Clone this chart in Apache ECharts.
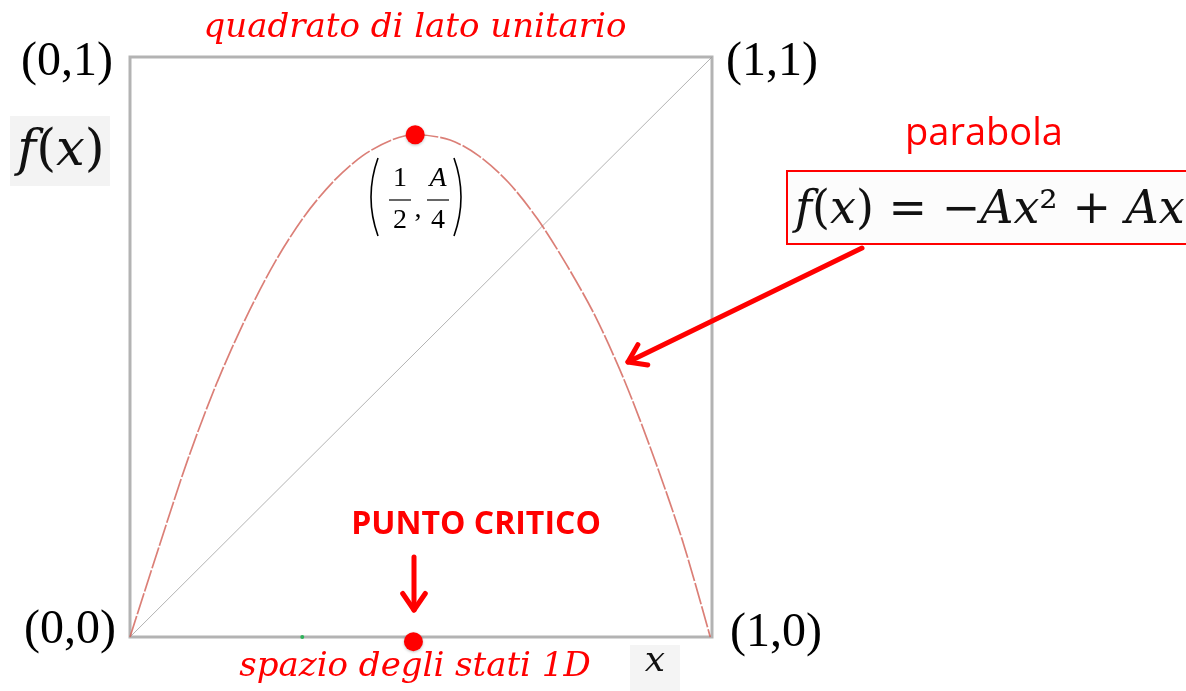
<!DOCTYPE html>
<html>
<head>
<meta charset="utf-8">
<script src="https://cdn.jsdelivr.net/npm/echarts@6/dist/echarts.min.js"></script>
<style>
  html, body { margin: 0; padding: 0; background: #fff; }
  #main { width: 1186px; height: 691px; }
</style>
</head>
<body>
<div id="main"></div>
<script>
// parabola: x in [0,1], f(x)
const curveX = [0, 0.05, 0.10, 0.15, 0.20, 0.25, 0.30, 0.35, 0.40, 0.45, 0.49, 0.55, 0.60, 0.65, 0.70, 0.75, 0.80, 0.85, 0.90, 0.95, 0.997];
const curveY = [0, 0.156, 0.308, 0.440, 0.552, 0.648, 0.726, 0.786, 0.830, 0.857, 0.866, 0.857, 0.829, 0.784, 0.721, 0.642, 0.552, 0.441, 0.310, 0.164, 0];
// bisettrice
const diagX = [0, 1];
const diagY = [0, 1];
// punti rossi: vertice e punto critico
const redX = [0.49, 0.487];
const redY = [0.866, -0.008];
// puntino verde sull'asse
const greenX = [0.296];
const greenY = [0];

const RED = '#ff0000';
const SERIF = '"Liberation Serif", "DejaVu Serif", serif';
const MATH = '"DejaVu Serif", serif';

const chart = echarts.init(document.getElementById('main'));

const zip = (xs, ys) => xs.map((x, i) => [x, ys[i]]);

// freccia "aperta" in stile powerpoint
const arrow = (x1, y1, x2, y2) => {
  const a = Math.atan2(y2 - y1, x2 - x1);
  const len = 20, spread = 0.6;
  const p1 = [x2 - len * Math.cos(a - spread), y2 - len * Math.sin(a - spread)];
  const p2 = [x2 - len * Math.cos(a + spread), y2 - len * Math.sin(a + spread)];
  const st = { stroke: RED, lineWidth: 5, lineCap: 'round', lineJoin: 'round', fill: null };
  return [
    { type: 'line', shape: { x1: x1, y1: y1, x2: x2, y2: y2 }, style: st, z: 50 },
    { type: 'polyline', shape: { points: [p1, [x2, y2], p2] }, style: st, z: 50 }
  ];
};

const txt = (text, x, y, font, fill, align) => ({
  type: 'text', x: x, y: y, z: 60,
  style: { text: text, font: font, fill: fill || '#000', align: align || 'center', verticalAlign: 'middle' }
});

const paren = (x, bulge) => ({
  type: 'bezierCurve', z: 60,
  shape: { x1: x, y1: 158, x2: x, y2: 236, cpx1: x + bulge, cpy1: 197 },
  style: { stroke: '#000', lineWidth: 1.6, fill: null }
});

const options = {
  backgroundColor: '#fff',
  animation: false,
  grid: {
    left: 130, top: 57, width: 582, height: 580,
    show: true, borderColor: '#b3b3b3', borderWidth: 3, backgroundColor: '#fff'
  },
  xAxis: { type: 'value', min: 0, max: 1, show: false },
  yAxis: { type: 'value', min: 0, max: 1, show: false },
  series: [
    {
      name: 'diagonale', type: 'line', data: zip(diagX, diagY), symbol: 'none',
      lineStyle: { color: '#a0a0a0', width: 0.8 }, z: 2
    },
    {
      name: 'parabola', type: 'line', data: zip(curveX, curveY), symbol: 'none', smooth: 0.3,
      lineStyle: { color: 'rgba(210, 95, 85, 0.8)', width: 1.7, type: [22, 2] }, z: 3
    },
    {
      name: 'punti', type: 'scatter', data: zip(redX, redY), symbolSize: 19, clip: false,
      itemStyle: { color: RED, opacity: 1, shadowColor: 'rgba(0,0,0,0.25)', shadowBlur: 3, shadowOffsetY: 1 }, z: 10
    },
    {
      name: 'verde', type: 'scatter', data: zip(greenX, greenY), symbolSize: 4, clip: false,
      itemStyle: { color: '#2fb35a', opacity: 1 }, z: 10
    }
  ],
  graphic: [
    // sfondi grigini delle etichette
    { type: 'rect', shape: { x: 10, y: 116, width: 100, height: 70 }, style: { fill: '#f3f3f3' }, z: 40 },
    { type: 'rect', shape: { x: 630, y: 645, width: 50, height: 46 }, style: { fill: '#f4f4f4' }, z: 40 },
    { type: 'rect', shape: { x: 787, y: 171, width: 420, height: 73 }, style: { fill: '#fcfcfc', stroke: RED, lineWidth: 2 }, z: 40 },

    txt('quadrato di lato unitario', 415, 28, 'italic 34px "DejaVu Serif"', RED),
    txt('spazio degli stati 1D', 415, 667, 'italic 34px "DejaVu Serif"', RED),
    txt('(0,1)', 67, 62, '48px ' + SERIF),
    txt('(1,1)', 772, 62, '48px ' + SERIF),
    txt('(0,0)', 70, 630, '48px ' + SERIF),
    txt('(1,0)', 776, 633, '48px ' + SERIF),
    {
      type: 'text', x: 61, y: 152, z: 60,
      style: {
        text: '{i|f}{r|(}{i|x}{r|)}', align: 'center', verticalAlign: 'middle',
        rich: { i: { font: 'italic 51px ' + MATH, fill: '#111' }, r: { font: '51px ' + MATH, fill: '#111' } }
      }
    },
    txt('x', 655, 662, 'italic 36px ' + MATH, '#111'),
    txt('parabola', 984, 134, '38px "Open Sans"', RED),
    {
      type: 'text', x: 795, y: 211, z: 60,
      style: {
        text: '{i|f}{r|(}{i|x}{r|) = −}{i|Ax}{r|² + }{i|Ax}', align: 'left', verticalAlign: 'middle',
        rich: { i: { font: 'italic 46px ' + MATH, fill: '#111' }, r: { font: '46px ' + MATH, fill: '#111' } }
      }
    },
    txt('PUNTO CRITICO', 476, 525, 'bold 32px "Open Sans"', RED),

    // (1/2, A/4)
    paren(378, -14),
    txt('1', 400, 179, '28px ' + SERIF),
    { type: 'line', shape: { x1: 389, y1: 200, x2: 411, y2: 200 }, style: { stroke: '#000', lineWidth: 1.2 }, z: 60 },
    txt('2', 400, 221, '28px ' + SERIF),
    txt(',', 418, 210, '28px ' + SERIF),
    txt('A', 438, 179, 'italic 28px ' + SERIF),
    { type: 'line', shape: { x1: 427, y1: 200, x2: 449, y2: 200 }, style: { stroke: '#000', lineWidth: 1.2 }, z: 60 },
    txt('4', 438, 221, '28px ' + SERIF),
    paren(454, 14)
  ]
    .concat(arrow(862, 248, 628, 362))
    .concat(arrow(414, 557, 414, 610))
};

chart.setOption(options);
</script>
</body>
</html>
